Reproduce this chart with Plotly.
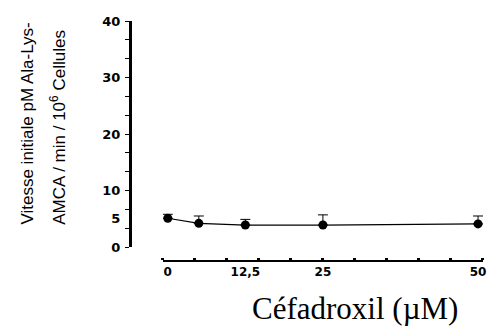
import plotly.graph_objects as go

# Céfadroxil concentrations (µM) and measured initial rates
conc = [0, 5, 12.5, 25, 50]
rate = [5.1, 4.2, 3.9, 3.9, 4.1]
err_up = [0.7, 1.3, 1.0, 1.8, 1.4]

x_tickvals = [0, 12.5, 25, 50]
x_ticktext = ["0", "12,5", "25", "50"]
y_tickvals = [0, 5, 10, 20, 30, 40]
y_ticktext = ["0", "5", "10", "20", "30", "40"]

fig = go.Figure()
fig.add_trace(go.Scatter(
    x=conc, y=rate,
    mode="lines+markers",
    line=dict(color="black", width=1.2),
    marker=dict(color="black", size=9),
    error_y=dict(type="data", array=err_up, arrayminus=[0] * len(err_up),
                 symmetric=False, color="black", thickness=1, width=5),
    cliponaxis=False,
    showlegend=False,
))

x_font = dict(family="DejaVu Sans", size=12, color="black", weight="bold")
y_font = dict(family="DejaVu Sans", size=13, color="black", weight="bold")
title_font = dict(family="Liberation Sans", size=17, color="black")

fig.update_layout(
    width=498, height=331,
    margin=dict(l=130, r=13, t=21, b=70),
    paper_bgcolor="white", plot_bgcolor="white",
    xaxis=dict(
        domain=[0.093, 1], range=[-0.8, 50.8],
        anchor="free", position=0,
        showline=True, linecolor="black", linewidth=2,
        showgrid=False, zeroline=False,
        tickmode="array", tickvals=x_tickvals, ticktext=x_ticktext,
        ticks="", tickfont=x_font,
        minor=dict(tickmode="linear", tick0=-0.8, dtick=5.16,
                   ticks="inside", ticklen=2, tickwidth=3, tickcolor="black"),
    ),
    yaxis=dict(
        domain=[0.058, 1], range=[0, 40],
        anchor="free", position=0,
        showline=True, linecolor="black", linewidth=3,
        showgrid=False, zeroline=False,
        tickmode="array", tickvals=y_tickvals, ticktext=y_ticktext,
        ticks="", ticklabelstandoff=6, tickfont=y_font,
        minor=dict(tickmode="linear", tick0=0, dtick=10 / 3,
                   ticks="outside", ticklen=4, tickwidth=1, tickcolor="black"),
    ),
    annotations=[
        dict(text="Vitesse initiale pM Ala-Lys-",
             xref="paper", yref="paper", x=-0.290, y=0.142,
             xanchor="center", yanchor="bottom",
             textangle=-90, showarrow=False, font=title_font),
        dict(text="AMCA / min / 10<sup>6</sup> Cellules",
             xref="paper", yref="paper", x=-0.203, y=0.142,
             xanchor="center", yanchor="bottom",
             textangle=-90, showarrow=False, font=title_font),
        dict(text="Céfadroxil (µM)",
             xref="paper", yref="paper", x=0.637, y=-0.196,
             showarrow=False, xanchor="center", yanchor="middle",
             font=dict(family="Liberation Serif", size=31, color="black")),
    ],
)

fig.write_html("out.html")
